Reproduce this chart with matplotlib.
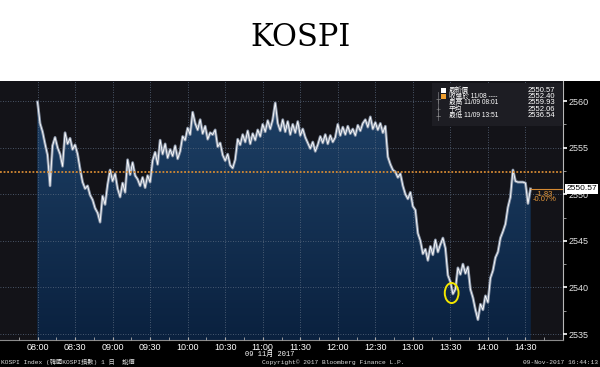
import matplotlib
matplotlib.use('Agg')
import matplotlib.pyplot as plt
import numpy as np
from matplotlib.patches import Ellipse, Rectangle
from matplotlib.colors import LinearSegmentedColormap
from matplotlib.ticker import FixedLocator, MultipleLocator, FuncFormatter

# KOSPI intraday, 2-minute samples from 08:00 (Taipei time)
minutes = list(range(0, 396, 2))
values = [
    2559.9, 2557.6, 2556.7, 2555.4, 2554.2, 2550.9, 2555.2, 2556.1, 2555.0, 2554.3,
    2553.0, 2556.6, 2555.4, 2556.0, 2554.8, 2555.3, 2554.3, 2552.7, 2551.3, 2550.6,
    2550.9, 2549.9, 2549.4, 2548.5, 2548.0, 2547.0, 2549.8, 2548.9, 2551.0, 2552.6,
    2551.4, 2552.2, 2550.6, 2549.7, 2551.2, 2550.2, 2553.7, 2552.1, 2553.4, 2552.0,
    2551.6, 2550.9, 2551.8, 2550.7, 2552.0, 2551.3, 2553.6, 2554.5, 2553.2, 2555.8,
    2554.3, 2555.4, 2553.9, 2554.8, 2554.1, 2555.2, 2553.8, 2554.6, 2556.2, 2555.8,
    2557.1, 2556.4, 2558.8, 2557.6, 2556.9, 2558.0, 2556.5, 2557.3, 2555.9, 2556.6,
    2556.4, 2556.9, 2555.1, 2555.5, 2554.2, 2553.6, 2554.3, 2553.1, 2552.8, 2553.7,
    2555.9, 2555.3, 2556.4, 2555.6, 2556.8, 2555.4, 2556.5, 2555.8, 2556.9, 2556.2,
    2557.5, 2556.7, 2557.9, 2557.0, 2558.0, 2559.8, 2557.6, 2556.8, 2558.0, 2556.7,
    2557.8, 2556.4, 2557.5, 2556.6, 2557.8, 2556.3, 2557.0, 2556.1, 2555.5, 2554.9,
    2555.6, 2554.6, 2555.3, 2556.2, 2555.5, 2556.4, 2555.4, 2556.3, 2555.6, 2556.1,
    2557.5, 2556.3, 2557.2, 2556.4, 2557.3, 2556.5, 2557.0, 2556.3, 2557.4, 2556.8,
    2557.6, 2558.0, 2557.2, 2558.3, 2557.0, 2557.7, 2556.9, 2557.6, 2556.6, 2557.3,
    2554.0, 2553.2, 2552.6, 2552.4, 2551.8, 2552.2, 2550.9, 2550.0, 2549.5, 2550.2,
    2548.7, 2548.3, 2545.8, 2545.0, 2543.6, 2544.1, 2542.9, 2544.4, 2543.5, 2545.1,
    2543.8, 2544.6, 2545.3, 2544.2, 2541.3, 2540.6, 2539.3, 2539.8, 2542.1, 2541.4,
    2542.5, 2541.5, 2542.2, 2539.8, 2538.9, 2537.6, 2536.54, 2538.2, 2537.6, 2539.1,
    2538.4, 2541.0, 2541.8, 2543.2, 2543.8, 2545.3, 2546.0, 2546.8, 2548.6, 2549.7,
    2552.6, 2551.4, 2551.3, 2551.3, 2551.3, 2551.2, 2549.0, 2550.57,
]

last_price = 2550.57
prev_close = 2552.40

legend_rows = [
    ('最新價', '2550.57'),
    ('收盤於 11/08 ----', '2552.40'),
    ('最高 11/09 08:01', '2559.93'),
    ('平均', '2552.06'),
    ('最低 11/09 13:51', '2536.54'),
]
legend_marks = ['', '', '⊤', '+', '⊥']

tick_minutes = list(range(0, 391, 30))
minor_minutes = list(range(-15, 420, 30))

circle_at = (331, 2539.4)  # the yellow highlight around 13:31

W, H = 600, 367


def px(x, y):
    return x / W, 1 - y / H


fig = plt.figure(figsize=(6, 3.67), dpi=100, facecolor='white')
fig.patches.append(Rectangle((0, 0), 1, 1 - 81 / H, transform=fig.transFigure,
                             facecolor='black', edgecolor='none', zorder=-1))

ax = fig.add_axes([0, (H - 340) / H, 563 / W, (340 - 81) / H])
ax.set_facecolor('#131318')

xmin, xmax = -30, 420
ymin, ymax = 2534.36, 2562.15

poly = ax.fill_between(minutes, values, ymin, facecolor='#11304f', lw=0, zorder=1)
cmap = LinearSegmentedColormap.from_list('kospi', ['#0a213f', '#1f4268'])
grad = np.linspace(0, 1, 256).reshape(-1, 1)
im = ax.imshow(grad, extent=[xmin, xmax, ymin, ymax], aspect='auto', cmap=cmap,
               origin='lower', zorder=1.1)
im.set_clip_path(poly.get_paths()[0], transform=ax.transData)

ax.plot(minutes, values, color='#8793a6', lw=2.0, zorder=3)
ax.plot(minutes, values, color='white', lw=0.6, zorder=4)

ax.axhline(prev_close, color='#d58a33', lw=1.3, ls=(0, (1, 1)), zorder=5)

# change marker at the right
ax.hlines(last_price, minutes[-1], xmax, color='#d58a33', lw=0.8, zorder=5)
ax.text(398, last_price - 0.55, '-1.83', color='#e89a3c', fontsize=5.5,
        family='Liberation Sans', va='center', zorder=6)
ax.text(396, last_price - 1.15, '-0.07%', color='#e89a3c', fontsize=5.5,
        family='Liberation Sans', va='center', zorder=6)
ax.text(1.006, last_price, '2550.57', transform=ax.get_yaxis_transform(),
        color='black', fontsize=6, family='Liberation Sans', va='center', ha='left',
        bbox=dict(boxstyle='square,pad=0.15', fc='white', ec='none'), zorder=7,
        clip_on=False)

ax.add_patch(Ellipse(circle_at, 11, 2.15, fill=False, ec='#f2e600', lw=1.4, zorder=6))

ax.set_xlim(xmin, xmax)
ax.set_ylim(ymin, ymax)

ax.xaxis.set_major_locator(FixedLocator(tick_minutes))
ax.xaxis.set_minor_locator(FixedLocator(minor_minutes))
ax.xaxis.set_major_formatter(FuncFormatter(lambda m, p: f'{8 + int(m) // 60:02d}:{int(m) % 60:02d}'))
ax.yaxis.tick_right()
ax.yaxis.set_major_locator(MultipleLocator(5))
ax.yaxis.set_minor_locator(MultipleLocator(2.5))
ax.yaxis.set_major_formatter(FuncFormatter(lambda v, p: f'{v:.0f}'))

ax.tick_params(axis='x', which='both', direction='in', length=2, color='#aaaaaa',
               labelcolor='white', labelsize=6.5, pad=2)
ax.tick_params(axis='y', which='major', direction='out', length=3, width=1.2,
               color='white', labelcolor='#e6e6e6', labelsize=6.5, pad=1)
ax.tick_params(axis='y', which='minor', direction='out', length=2, color='#aaaaaa')
for lab in ax.get_xticklabels() + ax.get_yticklabels():
    lab.set_family('Liberation Sans')

ax.grid(True, which='major', color='#5b6b80', ls=(0, (1, 2)), lw=0.6)
ax.set_axisbelow(False)

for s in ['top', 'left']:
    ax.spines[s].set_visible(False)
ax.spines['right'].set_color('#b8b8b8')
ax.spines['bottom'].set_color('#8a8a8a')

# legend box
x0, y0 = px(432, 126)
x1, y1 = px(562, 83)
fig.patches.append(Rectangle((x0, y0), x1 - x0, y1 - y0, transform=fig.transFigure,
                             facecolor='#1d1d23', edgecolor='none', zorder=1))
# little tree line down the left of the legend
tx0, ty0 = px(438, 120)
tx1, ty1 = px(438, 92)
fig.lines.append(plt.Line2D([tx0, tx1], [ty0, ty1], transform=fig.transFigure,
                            color='#6a6a70', lw=0.6, zorder=2))
sq_colors = ['white', '#f0a030']
cjk = ['Liberation Sans', 'Noto Sans CJK TC', 'DejaVu Sans']
for i, (label, val) in enumerate(legend_rows):
    ry = 90 + i * 6.4
    if i < 2:
        sx, sy = px(441, ry + 2.5)
        fig.patches.append(Rectangle((sx, sy), 5 / W, 5 / H, transform=fig.transFigure,
                                     facecolor=sq_colors[i], edgecolor='none', zorder=2))
    else:
        fig.text(*px(438, ry), legend_marks[i], color='#9a9a9a', fontsize=4.5,
                 family='DejaVu Sans', ha='center', va='center')
    fig.text(*px(449, ry), label, color='white', fontsize=4.8, family=cjk, va='center')
    fig.text(*px(555, ry), val, color='white', fontsize=5.5, family='Liberation Sans',
             ha='right', va='center')

# title and footer
fig.text(0.5, 1 - 37 / H, 'KOSPI', ha='center', va='center', fontsize=22,
         family=['DejaVu Serif Condensed', 'DejaVu Serif'], color='black')
mono = ['Liberation Mono', 'Noto Sans CJK TC']
fig.text(*px(270, 354), '09 11月 2017', ha='center', va='center', fontsize=5,
         family=mono, color='white')
fig.text(*px(1, 362), 'KOSPI Index (韓國KOSPI指數) 1 日  說價', ha='left', va='center',
         fontsize=4.5, family=mono, color='#dddddd')
fig.text(*px(333, 362), 'Copyright© 2017 Bloomberg Finance L.P.', ha='center', va='center',
         fontsize=4.5, family=mono, color='#dddddd')
fig.text(*px(598, 362), '09-Nov-2017 16:44:13', ha='right', va='center',
         fontsize=4.5, family=mono, color='#dddddd')

fig.savefig('out.png', dpi=100, facecolor=fig.get_facecolor())
